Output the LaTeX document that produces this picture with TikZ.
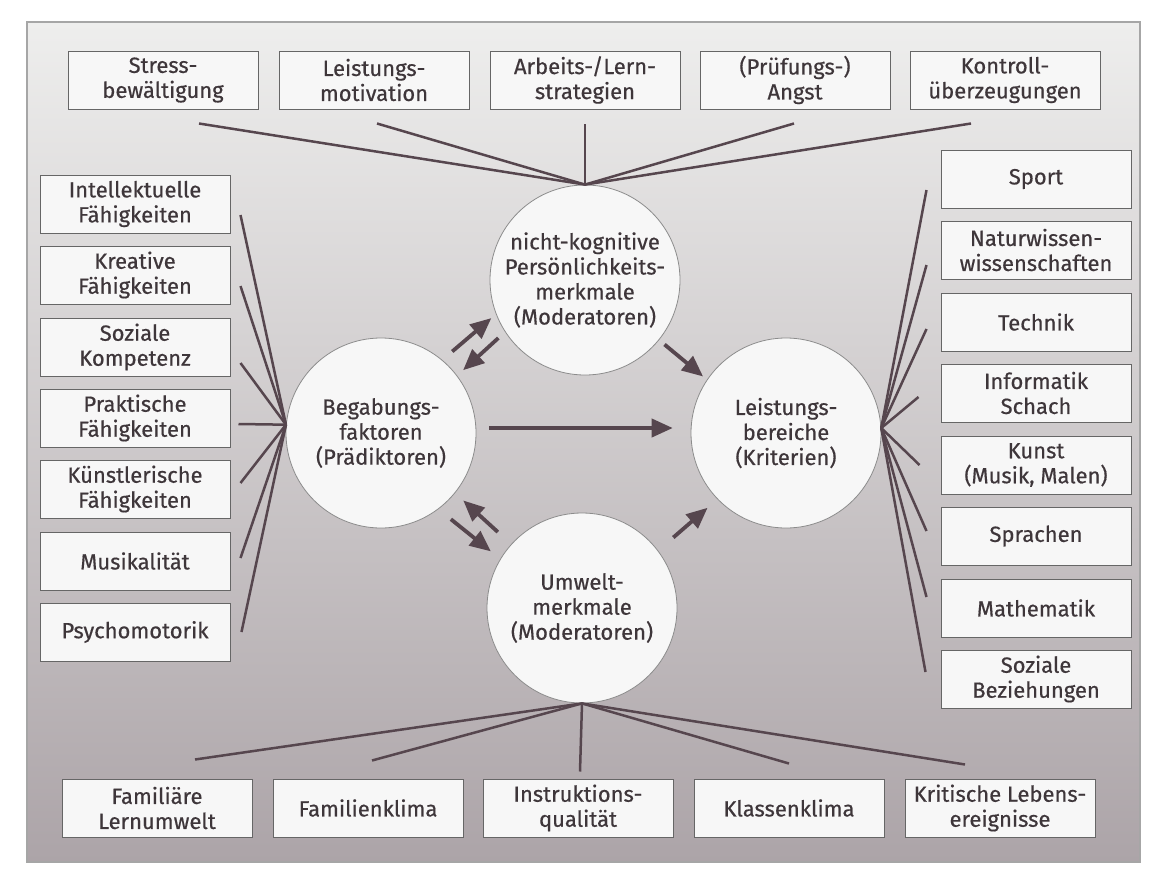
\documentclass[tikz,border=0pt]{standalone}
\usepackage{fontspec}
\setmainfont{Fira Sans}
\newfontfamily\schriftfam{Fira Sans}[FakeBold=0.5]
\usetikzlibrary{arrows.meta}
\definecolor{ink}{RGB}{86,70,78}
\definecolor{schrift}{RGB}{62,54,58}
\definecolor{bgtop}{RGB}{238,238,237}
\definecolor{bgmid}{RGB}{214,211,212}
\definecolor{bgbot}{RGB}{172,164,168}
\begin{document}
\begin{tikzpicture}[x=1pt,y=-1pt,
schr/.style={
font={\schriftfam\color{schrift} \fontsize{22pt}{25}\selectfont},
},
box/.style={
schr,
draw=black!60,
fill=white!97!black,
line width=1pt,
minimum width=190pt,
minimum height=58pt,
inner sep=0pt,
align=center,
},
kreis/.style={
schr,
circle,
draw=black!45,
fill=white!97!black,
line width=0.8pt,
minimum size=190pt,
inner sep=0pt,
align=center,
},
strahl/.style={
draw=ink,
line width=2.5pt,
},
pfeil/.style={
draw=ink,
line width=3.8pt,
-{Triangle[length=21pt,width=18pt]},
},
]
\useasboundingbox(0,0)rectangle(1151,870);
\fill[white](0,0)rectangle(1151,870);
\shade[top color=bgtop,middle color=bgmid,bottom color=bgbot](27,22)rectangle(1140,862);
\draw[black!35,line width=1.2pt](27,22)rectangle(1140,862);

\node[box](stress)at(163,80){Stress-\\bewältigung};
\node[box](motiv)at(374,80){Leistungs-\\motivation};
\node[box](lern)at(585,80){Arbeits-/Lern-\\strategien};
\node[box](angst)at(795,80){(Prüfungs-)\\Angst};
\node[box](kontr)at(1005,80){Kontroll-\\überzeugungen};

\node[box](intell)at(135,204){Intellektuelle\\Fähigkeiten};
\node[box](kreat)at(135,275){Kreative\\Fähigkeiten};
\node[box](sozial)at(135,347){Soziale\\Kompetenz};
\node[box](prakt)at(135,418){Praktische\\Fähigkeiten};
\node[box](kuenst)at(135,489){Künstlerische\\Fähigkeiten};
\node[box](musik)at(135,561){Musikalität};
\node[box](psycho)at(135,632){Psychomotorik};

\node[box](sport)at(1036,179){Sport};
\node[box](natur)at(1036,250){Naturwissen-\\wissenschaften};
\node[box](technik)at(1036,322){Technik};
\node[box](inform)at(1036,393){Informatik\\Schach};
\node[box](kunst)at(1036,465){Kunst\\(Musik, Malen)};
\node[box](sprach)at(1036,536){Sprachen};
\node[box](mathe)at(1036,608){Mathematik};
\node[box](bezieh)at(1036,679){Soziale\\Beziehungen};

\node[box](fam)at(157,808){Familiäre\\Lernumwelt};
\node[box](klima)at(368,808){Familienklima};
\node[box](instr)at(578,808){Instruktions-\\qualität};
\node[box](klasse)at(789,808){Klassenklima};
\node[box](krit)at(1000,808){Kritische Lebens-\\ereignisse};

\node[kreis](nk)at(585,280){nicht-kognitive\\Persönlichkeits-\\merkmale\\(Moderatoren)};
\node[kreis](beg)at(381,433){Begabungs-\\faktoren\\(Prädiktoren)};
\node[kreis](lei)at(786,433){Leistungs-\\bereiche\\(Kriterien)};
\node[kreis](um)at(582,608){Umwelt-\\merkmale\\(Moderatoren)};

\draw[strahl](nk.north)--([shift={(36,14)}]stress.south);
\draw[strahl](nk.north)--([shift={(3,14)}]motiv.south);
\draw[strahl](nk.north)--([shift={(0,14)}]lern.south);
\draw[strahl](nk.north)--([shift={(-1,14)}]angst.south);
\draw[strahl](nk.north)--([shift={(-34,14)}]kontr.south);

\draw[strahl](beg.175)--([shift={(10,11)}]intell.east);
\draw[strahl](beg.175)--([shift={(10,11)}]kreat.east);
\draw[strahl](beg.175)--([shift={(10,16)}]sozial.east);
\draw[strahl](beg.175)--([shift={(8,6)}]prakt.east);
\draw[strahl](beg.175)--([shift={(10,-6)}]kuenst.east);
\draw[strahl](beg.175)--([shift={(10,-3)}]musik.east);
\draw[strahl](beg.175)--([shift={(11,0)}]psycho.east);

\draw[strahl](lei.3)--([shift={(-14,11)}]sport.west);
\draw[strahl](lei.3)--([shift={(-14,15)}]natur.west);
\draw[strahl](lei.3)--([shift={(-14,7)}]technik.west);
\draw[strahl](lei.3)--([shift={(-22,4)}]inform.west);
\draw[strahl](lei.3)--([shift={(-21,0)}]kunst.west);
\draw[strahl](lei.3)--([shift={(-14,-5)}]sprach.west);
\draw[strahl](lei.3)--([shift={(-14,-11)}]mathe.west);
\draw[strahl](lei.3)--([shift={(-15,-7)}]bezieh.west);

\draw[strahl](um.south)--([shift={(38,-19)}]fam.north);
\draw[strahl](um.south)--([shift={(4,-18)}]klima.north);
\draw[strahl](um.south)--([shift={(2,-7)}]instr.north);
\draw[strahl](um.south)--([shift={(0,-15)}]klasse.north);
\draw[strahl](um.south)--([shift={(-35,-14)}]krit.north);

\draw[pfeil,shorten <=13pt,shorten >=6pt](beg.50)--(nk.201);
\draw[pfeil,shorten <=9pt,shorten >=8pt](nk.213)--(beg.37);
\draw[pfeil,shorten <=13pt,shorten >=18pt](beg.3)--(lei.177);
\draw[pfeil,shorten <=7pt,shorten >=5pt](nk.321)--(lei.146);
\draw[pfeil,shorten <=18pt,shorten >=11pt](um.138)--(beg.321);
\draw[pfeil,shorten <=16pt,shorten >=12pt](beg.307)--(um.149);
\draw[pfeil,shorten <=20pt,shorten >=13pt](um.37)--(lei.224);
\end{tikzpicture}
\end{document}
